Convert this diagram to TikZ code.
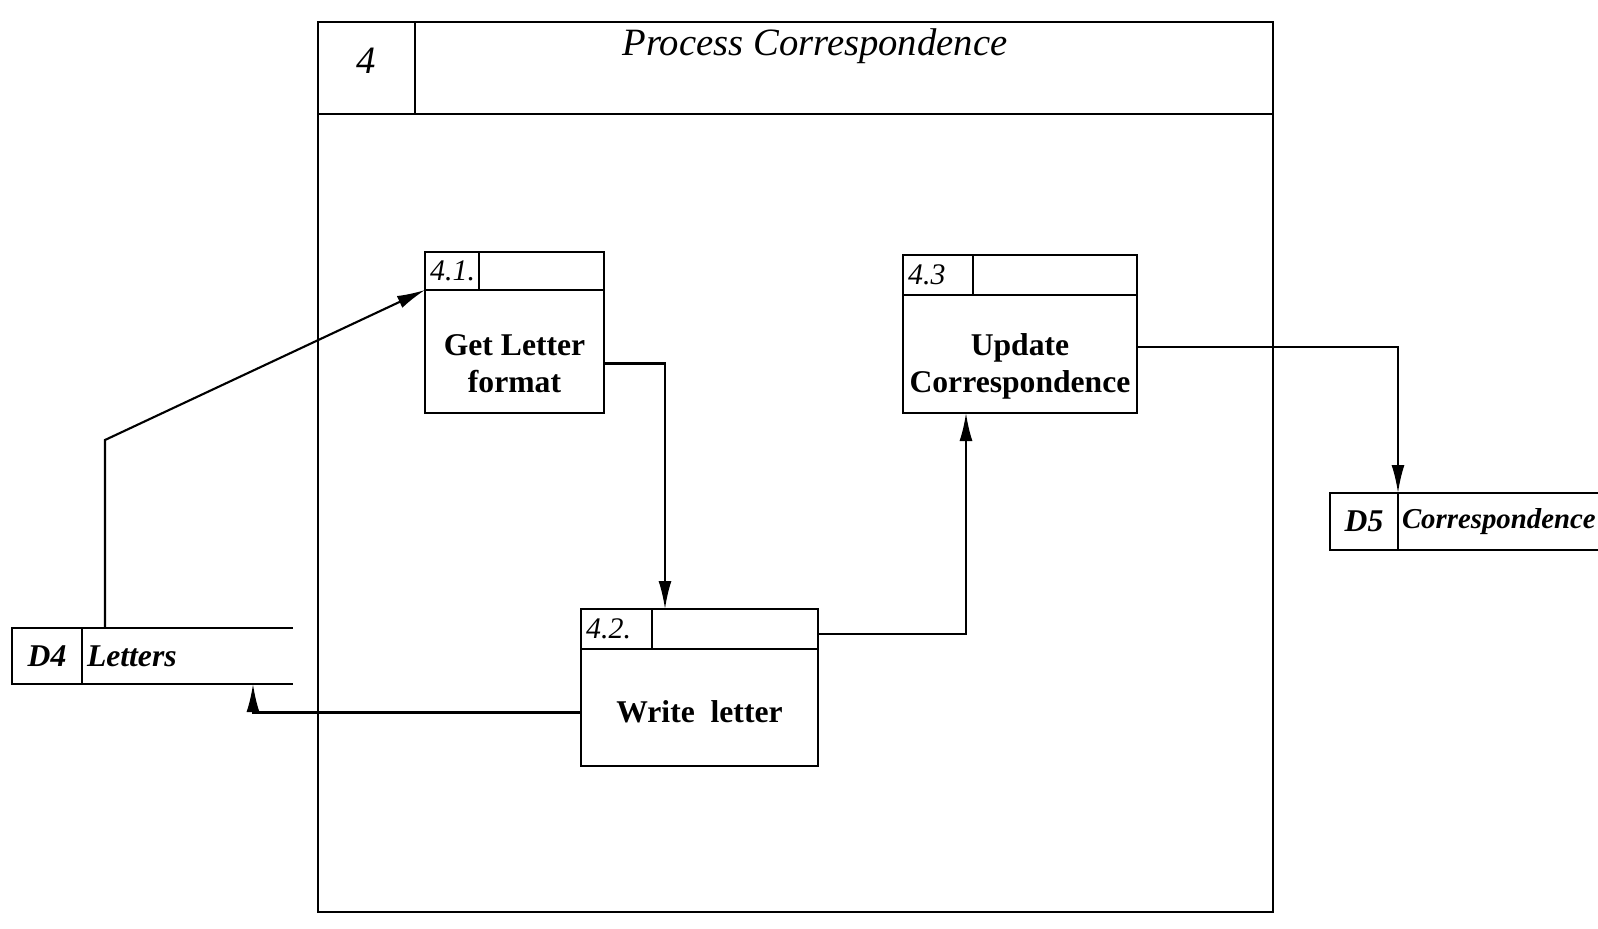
\documentclass[tikz,border=0pt]{standalone}
\usepackage{fontspec}
\setmainfont{Liberation Serif}
\usetikzlibrary{arrows.meta,positioning,calc}

\begin{document}
\begin{tikzpicture}[>={Latex[length=2.8mm,width=1.3mm]},line width=0.7pt,
   box/.style={draw,rectangle,inner sep=0pt,outer sep=0pt},
   ptext/.style={font=\fontsize{9}{10.5}\selectfont\bfseries,align=center},
   plabel/.style={font=\fontsize{8.5}{10}\selectfont\itshape,anchor=west,inner sep=0.04cm},
   slabel/.style={font=\fontsize{9}{10}\selectfont\bfseries\itshape},
   flow/.style={->,line width=0.6pt}]
  \useasboundingbox (0,0) rectangle (15.98,-9.29);
  % outer process 4
  \node[box,minimum width=9.55cm,minimum height=0.92cm,anchor=north west] (hd4) at (3.18,-0.22) {};
  \node[box,minimum width=0.97cm,minimum height=0.92cm,anchor=north west] (c4) at (hd4.north west) {};
  \node[font=\fontsize{11}{13}\selectfont\itshape] (l4) at ([yshift=0.07cm]c4.center) {4};
  \node[box,minimum width=9.55cm,minimum height=7.98cm,anchor=north] (p4) at (hd4.south) {};
  \node[font=\fontsize{11}{13}\selectfont\itshape] (ttl) at (8.15,-0.46) {Process Correspondence};

  % 4.1
  \node[box,minimum width=1.79cm,minimum height=0.38cm,anchor=north west] (h41) at (4.25,-2.52) {};
  \node[box,minimum width=0.54cm,minimum height=0.38cm,anchor=north west] (c41) at (h41.north west) {};
  \node[plabel] (l41) at (c41.west) {4.1.};
  \node[box,minimum width=1.79cm,minimum height=1.23cm,anchor=north] (p41) at (h41.south) {};
  \node[ptext] (t41) at ([yshift=-0.12cm]p41.center) {Get Letter\\format};

  % 4.3
  \node[box,minimum width=2.34cm,minimum height=0.40cm,anchor=north west] (h43) at (9.03,-2.55) {};
  \node[box,minimum width=0.70cm,minimum height=0.40cm,anchor=north west] (c43) at (h43.north west) {};
  \node[plabel] (l43) at (c43.west) {4.3};
  \node[box,minimum width=2.34cm,minimum height=1.18cm,anchor=north] (p43) at (h43.south) {};
  \node[ptext] (t43) at ([yshift=-0.12cm]p43.center) {Update\\Correspondence};

  % 4.2
  \node[box,minimum width=2.37cm,minimum height=0.40cm,anchor=north west] (h42) at (5.81,-6.09) {};
  \node[box,minimum width=0.71cm,minimum height=0.40cm,anchor=north west] (c42) at (h42.north west) {};
  \node[plabel] (l42) at (c42.west) {4.2.};
  \node[box,minimum width=2.37cm,minimum height=1.17cm,anchor=north] (p42) at (h42.south) {};
  \node[ptext] (t42) at ([yshift=-0.04cm]p42.center) {Write~~letter};

  % data stores
  \node[box,slabel,minimum width=0.70cm,minimum height=0.56cm,anchor=north west] (s4) at (0.12,-6.28) {D4};
  \node[slabel,text width=2.01cm,inner xsep=0.05cm,inner ysep=0pt,outer sep=0pt,minimum height=0.56cm,
        align=left,anchor=north west] (d4) at (s4.north east) {Letters};
  \draw (d4.north west) -- (d4.north east);
  \draw (d4.south west) -- (d4.south east);

  \node[box,slabel,minimum width=0.68cm,minimum height=0.57cm,anchor=north west] (s5) at (13.30,-4.93) {D5};
  \node[slabel,font=\fontsize{8.2}{10}\selectfont\bfseries\itshape,text width=1.92cm,inner xsep=0.04cm,
        inner ysep=0pt,outer sep=0pt,minimum height=0.57cm,align=left,anchor=north west] (d5) at (s5.north east) {Correspondence};
  \draw (d5.north west) -- (d5.north east);
  \draw (d5.south west) -- (d5.south east);

  % flows
  \draw[flow] ([xshift=0.23cm]d4.north west) -- ++(0,1.88) -- (p41.north west);
  \draw[flow] ([yshift=-0.12cm]p41.east) -| ([xshift=0.84cm]h42.north west);
  \draw[flow] ([yshift=-0.05cm]h42.east) -| ([xshift=0.63cm]p43.south west);
  \draw[flow] ([yshift=0.07cm]p43.east) -| (d5.north west);
  \draw[flow] ([yshift=-0.05cm]p42.west) -| ([xshift=1.71cm]d4.south west);
\end{tikzpicture}
\end{document}
